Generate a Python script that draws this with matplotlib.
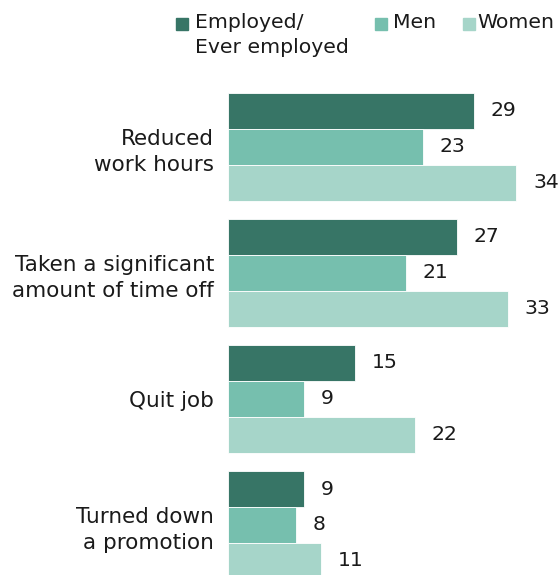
import matplotlib
matplotlib.use("Agg")
import matplotlib.pyplot as plt
from matplotlib.patches import Rectangle
import numpy as np

categories = ["Reduced\nwork hours", "Taken a significant\namount of time off",
              "Quit job", "Turned down\na promotion"]
series = ["Employed/\nEver employed", "Men", "Women"]
employed = [29, 27, 15, 9]
men = [23, 21, 9, 8]
women = [34, 33, 22, 11]
colors = ["#377566", "#76bfae", "#a6d5c9"]

plt.rcParams["font.family"] = "DejaVu Sans"
fs_cat = 15.5
fs = 14.7

fig = plt.figure(figsize=(5.58, 5.75), dpi=100)
# axes from x=228px to the right edge, y from bottom up to 85px from top
ax = fig.add_axes([228 / 558, 0, 330 / 558, 490 / 575])

bh = 36 / 126
y = np.arange(len(categories))
for i, vals in enumerate([employed, men, women]):
    pos = y + (i - 1) * bh
    ax.barh(pos, vals, height=bh, color=colors[i], edgecolor="white", linewidth=0.6)
    for p, v in zip(pos, vals):
        ax.annotate(str(v), (v, p), xytext=(12, 0), textcoords="offset points",
                    va="center", ha="left", fontsize=fs, color="#1a1a1a")

ax.set_xlim(0, 330 / 8.48)
ax.set_ylim(3 + 50 / 126, -62 / 126)
ax.set_yticks(y)
ax.set_yticklabels(categories, fontsize=fs_cat, color="#1a1a1a", linespacing=1.35)
ax.tick_params(axis="y", length=0, pad=10)
ax.set_xticks([])
for s in ax.spines.values():
    s.set_visible(False)

# legend drawn by hand so the handles line up with the first text line
sq_x = [176, 375, 463]
tx_x = [195, 393, 477]
for i, lab in enumerate(series):
    fig.patches.append(Rectangle((sq_x[i] / 558, 1 - 30 / 575), 12 / 558, 12 / 575,
                                 transform=fig.transFigure, color=colors[i]))
    fig.text(tx_x[i] / 558, 1 - 13 / 575, lab, fontsize=fs, va="top",
             ha="left", color="#1a1a1a", linespacing=1.38)

fig.savefig("out.png", dpi=100)
